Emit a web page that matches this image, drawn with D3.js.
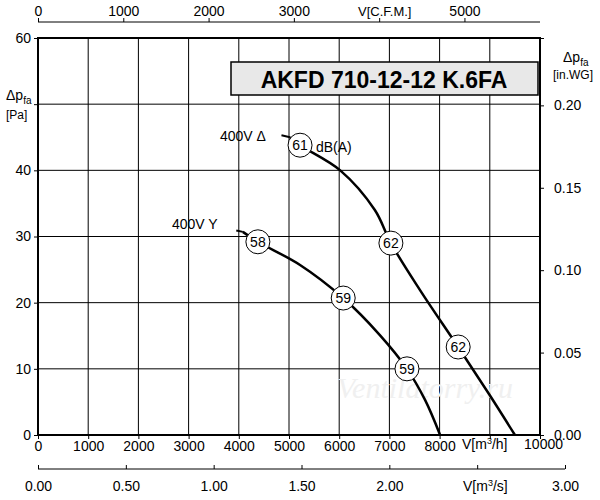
<!DOCTYPE html>
<html><head><meta charset="utf-8">
<script src="https://cdn.jsdelivr.net/npm/d3@7"></script>
<style>body{margin:0;background:#fff}svg{font-family:Arial,"Liberation Sans",sans-serif}</style>
</head><body><svg id="c" width="600" height="500"></svg>
<script>
// curves (m3/h, Pa)
var curveDelta = [[5020,45],[5220,43.8],[6020,40],[6710,34],[7030,29],[7610,21.9],[8370,13.3],[9000,6],[9500,0]];
var curveY = [[4080,30.7],[4380,29.2],[5220,25.7],[6080,20.7],[6810,15.1],[7350,10],[7710,5.3],[8010,0]];
var markers = [[5220,43.8,"61"],[7030,29,"62"],[8370,13.3,"62"],[4380,29.2,"58"],[6080,20.7,"59"],[7350,10,"59"]];
var xTicks = [0,1000,2000,3000,4000,5000,6000,7000,8000,9000,10000];
var yTicks = [0,10,20,30,40,50,60];
var cfmTicks = [0,1000,2000,3000,4000,5000];
var m3sTicks = [0,0.5,1,1.5,2,2.5,3];
var wgTicks = [0,0.05,0.1,0.15,0.2];

var svg = d3.select("#c");
var L=38,R=540,T=38,B=435;
var x = d3.scaleLinear().domain([0,10000]).range([L,R]);
var y = d3.scaleLinear().domain([0,60]).range([B,T]);
var xc = d3.scaleLinear().domain([0,10000/1.699]).range([L,R]);
var xs = d3.scaleLinear().domain([0,3]).range([L,565]);
var yw = d3.scaleLinear().domain([0,60/249.09]).range([B,T]);

svg.selectAll(".vg").data(xTicks).enter().append("line")
  .attr("x1",d=>x(d)).attr("x2",d=>x(d)).attr("y1",T).attr("y2",B).attr("stroke","#000").attr("stroke-width",1);
svg.selectAll(".hg").data(yTicks).enter().append("line")
  .attr("y1",d=>y(d)).attr("y2",d=>y(d)).attr("x1",L).attr("x2",R).attr("stroke","#000").attr("stroke-width",1);
svg.append("rect").attr("x",L).attr("y",T).attr("width",R-L).attr("height",B-T).attr("fill","none").attr("stroke","#000").attr("stroke-width",2);

svg.append("text").attr("x",425).attr("y",398).attr("text-anchor","middle").attr("font-size",30)
  .attr("font-style","italic").attr("font-family","Liberation Serif,serif").attr("fill","#f0f0f0").text("Ventilatorry.ru");

function ax(g,scale,ticks,orient,fmt){
  var a = orient(scale).tickValues(ticks).tickSize(4).tickFormat(fmt);
  g.call(a); g.select(".domain").attr("stroke","#000");
  g.selectAll("text").attr("font-size",14).attr("fill","#000");
  return g;
}
ax(svg.append("g").attr("transform","translate(0,"+B+")"),x,xTicks,d3.axisBottom,d=>d>=9000?"":d).selectAll("text").attr("y",3).attr("dy","0.9em");
var gs = ax(svg.append("g").attr("transform","translate(0,469)"),xs,m3sTicks,d3.axisTop,d=>d==2.5?"":d3.format(".2f")(d));
gs.select(".domain").remove();
svg.append("line").attr("x1",L).attr("x2",565).attr("y1",469).attr("y2",469).attr("stroke","#000").attr("stroke-width",1);
gs.selectAll("text").attr("y",22);
var gt = ax(svg.append("g").attr("transform","translate(0,22)"),xc,cfmTicks,d3.axisTop,d=>d==4000?"":d);
gt.select(".domain").remove();
gt.selectAll("text").attr("y",-6);
svg.append("line").attr("x1",L).attr("x2",R).attr("y1",22).attr("y2",22).attr("stroke","#000").attr("stroke-width",1);
ax(svg.append("g").attr("transform","translate("+L+",0)"),y,yTicks,d3.axisLeft,d=>d==50?"":d);
ax(svg.append("g").attr("transform","translate("+R+",0)"),yw,wgTicks,d3.axisRight,d3.format(".2f")).selectAll("text").attr("x",14);

svg.append("text").attr("x",462).attr("y",449).attr("font-size",14).html("V[m<tspan font-size='9' dy='-5'>3</tspan><tspan dy='5'>/h]</tspan>");
svg.append("text").attr("x",563).attr("y",449).attr("text-anchor","end").attr("font-size",14).text("10000");
svg.append("text").attr("x",463).attr("y",491).attr("font-size",14).html("V[m<tspan font-size='9' dy='-5'>3</tspan><tspan dy='5'>/s]</tspan>");
svg.append("text").attr("x",358).attr("y",16).attr("font-size",13).text("V[C.F.M.]");
svg.append("text").attr("x",6).attr("y",100).attr("font-size",14).html("Δp<tspan font-size='10' dy='4'>fa</tspan>");
svg.append("text").attr("x",6).attr("y",119).attr("font-size",12).text("[Pa]");
svg.append("text").attr("x",563).attr("y",62).attr("font-size",14).html("Δp<tspan font-size='10' dy='4'>fa</tspan>");
svg.append("text").attr("x",553).attr("y",79).attr("font-size",12).text("[in.WG]");

svg.append("rect").attr("x",231).attr("y",62).attr("width",307).attr("height",33).attr("fill","#e8e8e8").attr("stroke","#000").attr("stroke-width",1.5);
svg.append("text").attr("x",384).attr("y",88).attr("text-anchor","middle").attr("font-size",23).attr("font-weight","bold").text("AKFD 710-12-12 K.6FA");

var line = d3.line().x(d=>x(d[0])).y(d=>y(d[1])).curve(d3.curveCatmullRom);
[curveDelta,curveY].forEach(function(c){
  svg.append("path").attr("d",line(c)).attr("fill","none").attr("stroke","#000").attr("stroke-width",2.5);
});
svg.append("line").attr("x1",x(4850)).attr("x2",x(5020)).attr("y1",y(45.3)).attr("y2",y(45)).attr("stroke","#000").attr("stroke-width",2);
svg.append("line").attr("x1",x(3950)).attr("x2",x(4080)).attr("y1",y(30.9)).attr("y2",y(30.7)).attr("stroke","#000").attr("stroke-width",2);
svg.append("text").attr("x",220).attr("y",141).attr("font-size",14).text("400V Δ");
svg.append("text").attr("x",172).attr("y",229).attr("font-size",14).text("400V Y");
svg.append("text").attr("x",316).attr("y",152).attr("font-size",14).text("dB(A)");

var m = svg.selectAll(".m").data(markers).enter().append("g").attr("transform",d=>"translate("+x(d[0])+","+y(d[1])+")");
m.append("circle").attr("r",12).attr("fill","#fff").attr("stroke","#000");
m.append("text").attr("text-anchor","middle").attr("dy","0.35em").attr("font-size",14).text(d=>d[2]);
</script></body></html>
